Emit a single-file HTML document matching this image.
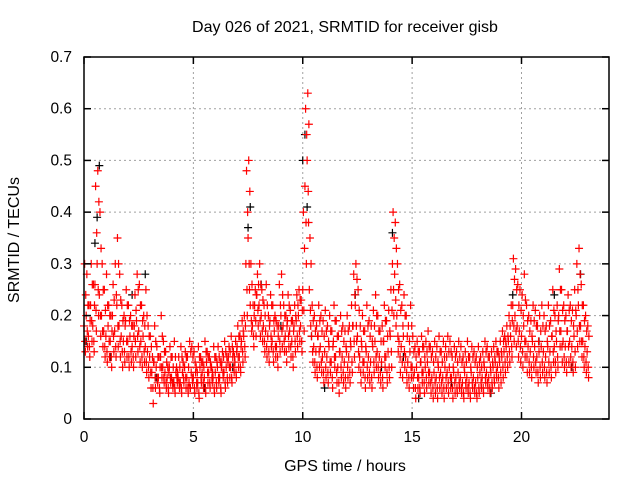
<!DOCTYPE html>
<html><head><meta charset="utf-8"><style>
body{margin:0;background:#fff}
svg{display:block;font-family:"Liberation Sans",sans-serif}
</style></head><body>
<svg id="chart" width="640" height="480">
<text x="345" y="32" text-anchor="middle" font-size="16">Day 026 of 2021, SRMTID for receiver gisb</text>
<text x="345" y="471" text-anchor="middle" font-size="16">GPS time / hours</text>
<text x="19" y="240" text-anchor="middle" font-size="16" transform="rotate(-90 19 240)">SRMTID / TECUs</text>
<g id="grid"></g>
<g id="marks"></g>
<rect x="84" y="57" width="525" height="362" fill="none" stroke="#000" stroke-width="1.5"/>
<g id="axes"></g>
</svg>
<script>
const xTicks=[0,5,10,15,20];
const yTicks=[0,0.1,0.2,0.3,0.4,0.5,0.6,0.7];
const yTickLabels=["0","0.1","0.2","0.3","0.4","0.5","0.6","0.7"];
const startHour=0, stepHour=0.1;
const seriesHigh=[.30,.28,.22,.30,.26,.45,.48,.40,.30,.25,
.28,.22,.20,.26,.30,.35,.28,.22,.20,.25,
.22,.20,.18,.24,.28,.26,.22,.20,.25,.18,
.16,.12,.18,.14,.12,.20,.15,.13,.10,.14,
.12,.15,.10,.12,.14,.11,.13,.12,.15,.14,
.13,.10,.14,.12,.11,.15,.13,.12,.10,.14,
.12,.14,.11,.13,.15,.12,.14,.16,.13,.15,
.18,.16,.19,.20,.48,.50,.30,.22,.25,.28,
.30,.25,.22,.26,.20,.24,.22,.20,.18,.26,
.28,.22,.20,.24,.21,.19,.22,.24,.25,.23,
.40,.60,.63,.35,.22,.20,.18,.22,.20,.19,
.21,.18,.20,.17,.22,.19,.16,.20,.18,.17,
.20,.18,.22,.28,.30,.25,.18,.20,.17,.22,
.19,.18,.21,.24,.20,.17,.18,.22,.19,.21,
.25,.40,.38,.30,.26,.22,.24,.20,.18,.22,
.16,.14,.15,.13,.16,.14,.15,.17,.14,.13,
.15,.14,.16,.13,.15,.14,.16,.15,.12,.14,
.13,.15,.14,.12,.13,.15,.12,.14,.13,.12,
.14,.12,.13,.15,.14,.12,.13,.14,.15,.13,
.15,.17,.16,.18,.20,.22,.31,.29,.26,.25,
.24,.28,.22,.20,.19,.22,.21,.18,.20,.22,
.20,.18,.22,.19,.25,.20,.22,.29,.25,.22,
.20,.24,.22,.21,.25,.30,.33,.26,.22,.20,.18];
const seriesUpperMid=[.24,.22,.19,.26,.22,.36,.42,.33,.25,.21,
.22,.20,.17,.23,.24,.30,.23,.19,.18,.22,
.19,.18,.16,.21,.25,.22,.19,.18,.20,.16,
.14,.11,.15,.12,.10,.16,.13,.11,.09,.12,
.10,.12,.09,.10,.12,.10,.12,.10,.13,.12,
.11,.09,.12,.11,.10,.13,.12,.11,.09,.12,
.11,.12,.10,.12,.13,.11,.13,.14,.12,.13,
.16,.14,.17,.18,.40,.44,.26,.20,.24,.26,
.26,.23,.20,.22,.18,.22,.19,.19,.16,.22,
.24,.20,.18,.22,.19,.17,.20,.22,.23,.21,
.33,.55,.57,.30,.19,.17,.16,.19,.17,.16,
.17,.15,.17,.14,.19,.16,.13,.17,.15,.14,
.17,.15,.18,.24,.27,.21,.15,.17,.14,.18,
.16,.15,.18,.20,.17,.15,.15,.19,.16,.17,
.21,.35,.33,.25,.21,.18,.20,.16,.15,.18,
.13,.12,.13,.11,.14,.12,.13,.14,.12,.11,
.12,.11,.13,.11,.12,.12,.13,.13,.10,.12,
.11,.12,.11,.10,.11,.12,.10,.12,.11,.10,
.11,.10,.11,.13,.12,.10,.11,.12,.13,.12,
.13,.15,.15,.16,.18,.19,.27,.25,.22,.21,
.20,.23,.19,.17,.16,.19,.18,.15,.17,.18,
.17,.15,.18,.16,.21,.17,.19,.25,.21,.19,
.17,.21,.19,.18,.21,.25,.28,.22,.19,.17,.16];
const seriesMid=[.18,.20,.16,.22,.18,.26,.30,.24,.20,.17,
.16,.18,.15,.20,.17,.22,.18,.16,.15,.19,
.15,.16,.14,.18,.19,.17,.15,.16,.14,.13,
.12,.09,.11,.10,.08,.12,.10,.09,.08,.10,
.08,.07,.09,.08,.07,.09,.10,.08,.07,.09,
.08,.09,.07,.10,.09,.08,.11,.09,.10,.08,
.09,.10,.08,.11,.09,.10,.12,.10,.12,.11,
.14,.12,.15,.16,.30,.35,.22,.18,.22,.24,
.22,.20,.18,.17,.16,.19,.15,.17,.14,.18,
.20,.18,.16,.19,.17,.15,.18,.19,.20,.18,
.25,.45,.50,.25,.16,.14,.13,.16,.14,.12,
.13,.12,.14,.11,.15,.12,.10,.13,.12,.11,
.13,.12,.14,.18,.22,.16,.12,.14,.11,.13,
.12,.11,.14,.15,.13,.12,.11,.15,.12,.13,
.16,.30,.28,.20,.15,.14,.16,.12,.11,.13,
.10,.09,.10,.08,.11,.09,.10,.11,.09,.08,
.09,.08,.10,.09,.08,.10,.09,.10,.08,.09,
.08,.09,.08,.07,.09,.08,.07,.09,.08,.07,
.08,.09,.08,.10,.09,.08,.09,.10,.11,.10,
.11,.12,.13,.14,.15,.16,.22,.20,.18,.17,
.16,.18,.15,.14,.13,.15,.14,.12,.13,.14,
.13,.12,.14,.13,.16,.14,.15,.20,.17,.15,
.14,.17,.15,.14,.16,.20,.22,.18,.15,.14,.13];
const seriesLowerMid=[.15,.17,.14,.19,.15,.21,.25,.20,.17,.14,
.13,.15,.12,.16,.14,.18,.15,.13,.13,.15,
.12,.13,.12,.15,.16,.14,.12,.13,.11,.10,
.09,.06,.08,.08,.06,.10,.08,.07,.06,.08,
.07,.06,.08,.07,.06,.08,.08,.06,.06,.08,
.06,.07,.05,.08,.07,.06,.09,.07,.08,.06,
.07,.08,.06,.09,.07,.08,.10,.08,.10,.09,
.12,.10,.13,.14,.25,.30,.19,.16,.19,.21,
.19,.17,.15,.14,.13,.16,.13,.14,.12,.15,
.17,.15,.13,.16,.14,.12,.15,.16,.17,.15,
.21,.38,.44,.21,.13,.11,.10,.13,.11,.09,
.10,.09,.11,.08,.12,.09,.07,.10,.09,.08,
.10,.09,.11,.15,.18,.13,.09,.11,.08,.10,
.09,.08,.11,.12,.10,.09,.08,.12,.09,.10,
.13,.25,.23,.16,.12,.11,.13,.09,.08,.10,
.08,.06,.08,.06,.09,.07,.08,.09,.07,.06,
.07,.06,.08,.07,.06,.08,.07,.08,.06,.07,
.06,.07,.06,.05,.07,.06,.05,.07,.06,.05,
.06,.07,.06,.08,.07,.06,.07,.08,.09,.08,
.09,.10,.11,.12,.13,.14,.18,.17,.15,.14,
.13,.15,.12,.11,.10,.12,.11,.09,.10,.11,
.10,.09,.11,.10,.13,.11,.12,.17,.14,.12,
.11,.14,.12,.11,.13,.17,.18,.15,.12,.11,.10];
const seriesLow=[.13,.14,.12,.15,.13,.17,.20,.16,.14,.12,
.11,.12,.10,.13,.12,.14,.12,.10,.11,.12,
.10,.11,.10,.12,.13,.11,.10,.11,.09,.08,
.06,.03,.06,.07,.05,.08,.07,.06,.05,.07,
.06,.05,.07,.06,.05,.07,.06,.05,.06,.07,
.05,.06,.04,.07,.06,.05,.07,.06,.07,.05,
.06,.07,.05,.08,.06,.07,.08,.07,.09,.08,
.10,.09,.11,.12,.20,.25,.17,.14,.16,.18,
.16,.15,.13,.12,.11,.14,.11,.12,.10,.13,
.14,.13,.11,.14,.12,.10,.13,.14,.15,.13,
.17,.30,.38,.18,.11,.09,.08,.10,.09,.07,
.08,.07,.09,.06,.10,.07,.05,.08,.07,.06,
.08,.07,.09,.12,.15,.10,.07,.09,.06,.08,
.07,.06,.09,.10,.08,.07,.06,.10,.07,.08,
.10,.20,.18,.13,.09,.08,.10,.07,.06,.08,
.06,.04,.06,.05,.07,.05,.06,.07,.05,.04,
.05,.04,.06,.05,.04,.06,.05,.06,.04,.05,
.05,.06,.05,.04,.06,.05,.04,.06,.05,.04,
.05,.06,.05,.07,.06,.05,.06,.07,.08,.06,
.07,.08,.09,.10,.11,.12,.15,.14,.12,.11,
.10,.12,.09,.09,.08,.10,.09,.07,.08,.09,
.08,.07,.09,.08,.11,.09,.10,.14,.11,.10,
.09,.11,.10,.09,.10,.14,.15,.12,.10,.09,.08];
const blackTimes=[0.1,0.5,0.6,0.7,1.2,2.2,2.8,3.3,4.1,5.5,6.8,7.5,7.6,8.1,9.0,10.0,10.1,10.2,10.4,11.0,12.4,13.6,14.1,14.6,15.3,16.8,18.6,19.6,20.8,21.5,22.3,22.7];
const blackVals=[0.15,0.34,0.39,0.49,0.12,0.24,0.28,0.08,0.07,0.06,0.10,0.37,0.41,0.26,0.18,0.50,0.55,0.41,0.16,0.06,0.24,0.10,0.36,0.12,0.04,0.07,0.05,0.24,0.15,0.24,0.10,0.28];
const X0=84,X1=609,Y0=419,Y1=57,xMax=24,yMax=0.7;
const xs=v=>X0+(v/xMax)*(X1-X0);
const ys=v=>Y0-(v/yMax)*(Y0-Y1);
const NS="http://www.w3.org/2000/svg";
const grid=document.getElementById('grid'),axes=document.getElementById('axes'),marks=document.getElementById('marks');
function ln(g,x1,y1,x2,y2,st,w,dash){const l=document.createElementNS(NS,'line');l.setAttribute('x1',x1);l.setAttribute('y1',y1);l.setAttribute('x2',x2);l.setAttribute('y2',y2);l.setAttribute('stroke',st);l.setAttribute('stroke-width',w);if(dash)l.setAttribute('stroke-dasharray',dash);g.appendChild(l);return l;}
yTicks.forEach((t,i)=>{const y=ys(t);
 if(i>0&&i<yTicks.length-1){const g=ln(grid,X0,y,X1,y,'#a0a0a0',1,'2,3');
 
 }
 const a=ln(axes,X0,y,X0+7,y,'#000',1.5);
 
 
 const b=ln(axes,X1-7,y,X1,y,'#000',1.5);
 
 
 const tx=document.createElementNS(NS,'text');tx.setAttribute('x',X0-12);tx.setAttribute('y',y+5);tx.setAttribute('text-anchor','end');tx.setAttribute('font-size','15.5');tx.textContent=yTickLabels[i];
 
 
 axes.appendChild(tx);});
xTicks.forEach(t=>{const x=xs(t);
 if(t>0){const g=ln(grid,x,Y1,x,Y0,'#a0a0a0',1,'2,3');
 
 }
 const a=ln(axes,x,Y0,x,Y0-7,'#000',1.5);
 
 
 const b=ln(axes,x,Y1,x,Y1+7,'#000',1.5);
 
 
 const tx=document.createElementNS(NS,'text');tx.setAttribute('x',x);tx.setAttribute('y',Y0+23);tx.setAttribute('text-anchor','middle');tx.setAttribute('font-size','15.5');tx.textContent=String(t);
 
 
 axes.appendChild(tx);});
function cross(t,v,col,name){const x=xs(t),y=ys(v);const p=document.createElementNS(NS,'path');
 p.setAttribute('d',`M${x-4} ${y}H${x+4}M${x} ${y-4}V${y+4}`);p.setAttribute('stroke',col);p.setAttribute('stroke-width','1.2');p.setAttribute('fill','none');
 
 
 marks.appendChild(p);}
blackTimes.forEach((t,i)=>cross(t,blackVals[i],'#000','point-black'));
[[seriesHigh,0.03],[seriesUpperMid,0.08],[seriesMid,0],[seriesLowerMid,0.05],[seriesLow,0.065]].forEach(([arr,off])=>{
 arr.forEach((v,i)=>cross(startHour+i*stepHour+off,v,'#f00','point-red'));});
</script>
</body></html>
